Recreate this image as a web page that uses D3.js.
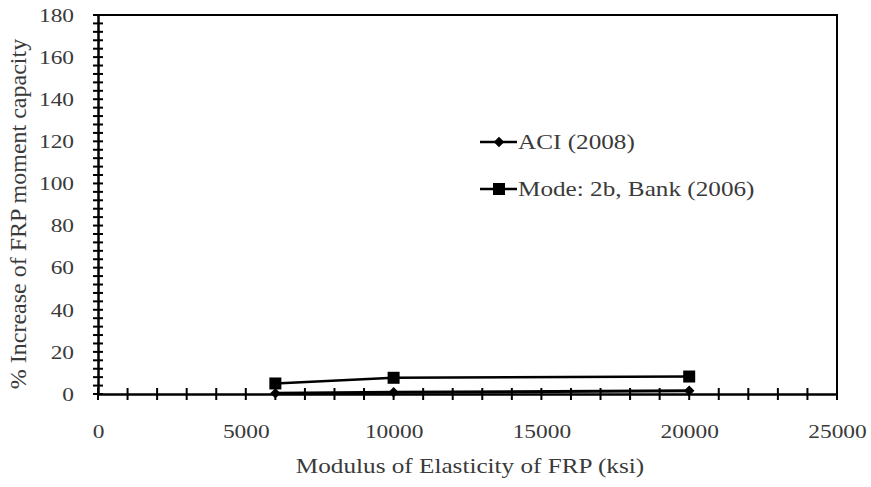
<!DOCTYPE html>
<html>
<head>
<meta charset="utf-8">
<script src="https://cdn.jsdelivr.net/npm/d3@7"></script>
<style>
  body { margin: 0; background: #fff; }
  svg { display: block; }
  text { font-family: "Liberation Serif", "DejaVu Serif", serif; fill: #3a3a3a; }
</style>
</head>
<body>
<figure id="chart" style="margin:0"></figure>
<script>
// data
const modulus = [6000, 10000, 20000];
const aciValues = [0.3, 0.8, 1.5];
const bankValues = [5, 7.7, 8.3];
const seriesNames = ["ACI (2008)", "Mode: 2b, Bank (2006)"];
const xTicks = [0, 5000, 10000, 15000, 20000, 25000];
const yTicks = [0, 20, 40, 60, 80, 100, 120, 140, 160, 180];

const W = 871, H = 487;
const margin = {left: 98, right: 34, top: 15, bottom: 93};
const width = W - margin.left - margin.right;
const height = H - margin.top - margin.bottom;
const stretch = 1.2; // the source picture is a bit wider than tall

const svg = d3.select("figure#chart")
  .append("svg")
  .attr("width", W)
  .attr("height", H);

const g = svg.append("g")
  .attr("transform", "translate(" + margin.left + "," + margin.top + ")");

const x = d3.scaleLinear().domain([0, 25000]).range([0, width]);
const y = d3.scaleLinear().domain([0, 180]).range([height, 0]);

// stretch a horizontal text sideways, keeping its anchor point
function widen(sel) {
  sel.each(function() {
    const t = d3.select(this);
    const tx = +t.attr("x") || 0;
    t.attr("x", tx / stretch).attr("transform", "scale(" + stretch + ",1)");
  });
}

// frame top/right
g.append("path")
  .attr("d", `M0,0H${width}V${height}`)
  .attr("fill", "none")
  .attr("stroke", "#000")
  .attr("stroke-width", 2);

// minor cross ticks (Excel style: major / 5)
const xMinor = d3.range(0, 25001, 1000);
const yMinor = d3.range(0, 181, 4);
g.append("g").selectAll("line").data(xMinor).join("line")
  .attr("x1", d => x(d)).attr("x2", d => x(d))
  .attr("y1", height - 6).attr("y2", height + 6)
  .attr("stroke", "#000").attr("stroke-width", 2);
g.append("g").selectAll("line").data(yMinor).join("line")
  .attr("x1", -5).attr("x2", 5)
  .attr("y1", d => y(d)).attr("y2", d => y(d))
  .attr("stroke", "#000").attr("stroke-width", 2);

// axes
const xAxis = g.append("g")
  .attr("transform", "translate(0," + height + ")")
  .call(d3.axisBottom(x).tickValues(xTicks).tickSize(0).tickPadding(30).tickFormat(d3.format("d")));
const yAxis = g.append("g")
  .call(d3.axisLeft(y).tickValues(yTicks).tickSize(0).tickPadding(24));
[xAxis, yAxis].forEach(a => {
  a.select(".domain").attr("stroke", "#000").attr("stroke-width", 2.5);
  a.selectAll("text").attr("font-size", 19.5).attr("fill", "#3a3a3a")
    .style("font-family", '"Liberation Serif", serif')
    .call(widen);
});

// axis titles
svg.append("text")
  .attr("x", 470).attr("y", 473)
  .attr("text-anchor", "middle")
  .attr("font-size", 21)
  .text("Modulus of Elasticity of FRP (ksi)")
  .call(widen);
svg.append("text")
  .attr("transform", "translate(26,214)rotate(-90)")
  .attr("text-anchor", "middle")
  .attr("font-size", 24)
  .text("% Increase of FRP moment capacity");

// series
const line = d3.line().x(d => x(d[0])).y(d => y(d[1]));
const aci = modulus.map((m, i) => [m, aciValues[i]]);
const bank = modulus.map((m, i) => [m, bankValues[i]]);

g.append("path").datum(aci)
  .attr("d", line).attr("fill", "none")
  .attr("stroke", "#000").attr("stroke-width", 3);
g.append("path").datum(bank)
  .attr("d", line).attr("fill", "none")
  .attr("stroke", "#000").attr("stroke-width", 2.5);

const diamond = d3.symbol().type(d3.symbolDiamond2).size(70);
g.append("g").selectAll("path").data(aci).join("path")
  .attr("transform", d => "translate(" + x(d[0]) + "," + y(d[1]) + ")")
  .attr("d", diamond).attr("fill", "#000");
g.append("g").selectAll("rect").data(bank).join("rect")
  .attr("x", d => x(d[0]) - 6).attr("y", d => y(d[1]) - 6)
  .attr("width", 12).attr("height", 12).attr("fill", "#000");

// legend
const legend = svg.append("g");
const legY = [142, 189];
seriesNames.forEach((name, i) => {
  legend.append("line")
    .attr("x1", 480).attr("x2", 517)
    .attr("y1", legY[i]).attr("y2", legY[i])
    .attr("stroke", "#000").attr("stroke-width", 2.5);
  if (i === 0) {
    legend.append("path")
      .attr("transform", "translate(499," + legY[i] + ")")
      .attr("d", diamond).attr("fill", "#000");
  } else {
    legend.append("rect")
      .attr("x", 493).attr("y", legY[i] - 6)
      .attr("width", 12).attr("height", 12).attr("fill", "#000");
  }
  legend.append("text")
    .attr("x", 518).attr("y", legY[i])
    .attr("dy", "0.35em")
    .attr("font-size", 21)
    .text(name)
    .call(widen);
});
</script>
</body>
</html>
